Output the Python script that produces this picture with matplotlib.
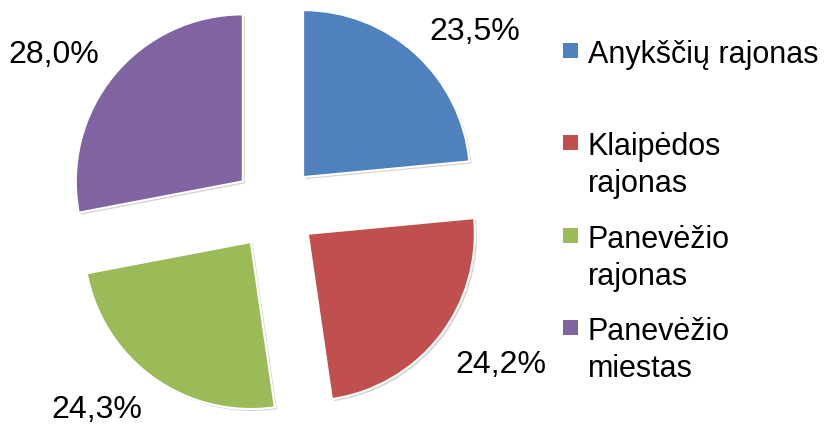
import matplotlib
matplotlib.use("Agg")
import matplotlib.pyplot as plt
import numpy as np
from matplotlib.patches import Rectangle
import matplotlib.patheffects as pe

categories = ["Anykščių rajonas", "Klaipėdos\nrajonas", "Panevėžio\nrajonas", "Panevėžio\nmiestas"]
values = [23.5, 24.2, 24.3, 28.0]
value_labels = ["23,5%", "24,2%", "24,3%", "28,0%"]
colors = ["#4F81BD", "#C0504D", "#9BBB59", "#8064A2"]

W, H = 831, 427
plt.rcParams['font.family'] = ['Liberation Sans', 'DejaVu Sans']
fig = plt.figure(figsize=(W / 100, H / 100), dpi=100)

R = 167.0          # pixels per data unit (pie radius)
cx, cy = 275.0, 209.0  # pie centre in pixels from top-left
lim = 1.6
side = 2 * lim * R
ax = fig.add_axes([(cx - lim * R) / W, (H - cy - lim * R) / H, side / W, side / H])

explode = [0.25] * len(values)
wedges, _ = ax.pie(values, startangle=90, counterclock=False, explode=explode,
                   colors=colors, radius=1.0,
                   wedgeprops=dict(edgecolor='white', linewidth=1.5))
ax.set_xlim(-lim, lim)
ax.set_ylim(-lim, lim)
ax.set_aspect('auto')
ax.axis('off')
for w in wedges:
    w.set_path_effects([pe.SimplePatchShadow(offset=(1.5, -1.5), shadow_rgbFace='#888888', alpha=0.35),
                        pe.Normal()])

# data labels outside end
fs_lab = 23
cap_pts = 0.716 * fs_lab
for w, txt in zip(wedges, value_labels):
    ang = np.deg2rad((w.theta1 + w.theta2) / 2)
    wc = np.array(w.center)
    d = np.array([np.cos(ang), np.sin(ang)])
    p = wc + 1.12 * w.r * d
    ha = 'left' if d[0] > 0 else 'right'
    dy = 0 if d[1] > 0 else -cap_pts
    ax.annotate(txt, xy=p, xytext=(0, dy), textcoords='offset points',
                ha=ha, va='baseline', fontsize=fs_lab, color='black',
                annotation_clip=False)

# legend (manual, Excel-like)
fs_leg = 22
first_base = 63.0
pitch = 92.3
line_gap = 37.0
sq = 15.0
for i, (lab, col) in enumerate(zip(categories, colors)):
    base = first_base + pitch * i
    cyc = base - 11.5
    fig.patches.append(Rectangle((563 / W, (H - cyc - sq / 2) / H), sq / W, sq / H,
                                 transform=fig.transFigure, facecolor=col,
                                 edgecolor='none'))
    for k, line in enumerate(lab.split("\n")):
        fig.text(588 / W, (H - (base + k * line_gap)) / H, line,
                 ha='left', va='baseline', fontsize=fs_leg, color='black')

fig.savefig("out.png", dpi=100)
